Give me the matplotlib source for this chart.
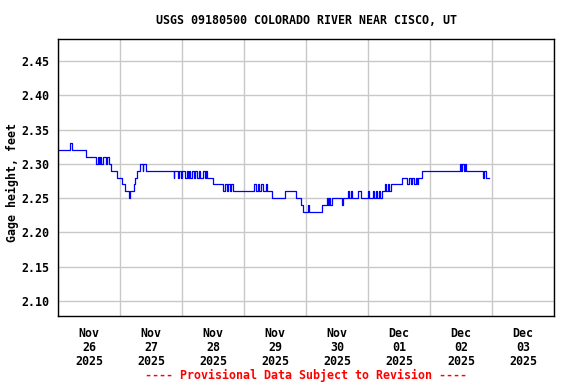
import matplotlib
matplotlib.use("Agg")
from matplotlib import pyplot as plt
import matplotlib.ticker as ticker

plt.rcParams['font.family'] = 'DejaVu Sans Mono'
plt.rcParams['font.weight'] = 'bold'
plt.rcParams['font.size'] = 8.4

# hours since 2025-11-26 00:00 at which the gage reading changes, and the new reading
hours = [0, 4.75, 5.25, 11.0, 14.75, 15.5, 15.75, 16.25, 16.5, 17.25, 18.75, 19.0,
         19.75, 20.5, 23.0, 24.75, 25.75, 27.5, 28.0, 29.25, 29.75, 30.5, 31.75,
         32.75, 33.0, 34.25, 44.75, 45.0, 46.5, 47.0, 47.5, 48.0, 49.0, 49.75,
         50.25, 50.75, 51.25, 52.0, 52.5, 53.0, 53.75, 54.5, 55.0, 56.0, 57.0,
         57.25, 57.75, 60.0, 63.75, 64.5, 65.25, 65.75, 66.5, 67.0, 67.75, 76.0,
         76.75, 77.5, 77.75, 78.75, 79.5, 80.5, 81.0, 83.0, 88.0, 92.0, 94.0,
         95.0, 96.75, 97.25, 102.25, 104.0, 104.5, 104.75, 105.25, 106.0, 110.0,
         110.5, 112.25, 112.75, 113.5, 113.75, 116.0, 117.25, 120.0, 120.5,
         122.0, 122.5, 123.0, 123.5, 124.25, 124.75, 125.25, 126.5, 127.0,
         127.75, 128.25, 129.0, 133.0, 135.25, 135.75, 136.5, 137.0, 138.0,
         138.5, 139.0, 139.25, 140.75, 155.5, 156.0, 156.5, 157.0, 157.5, 158.0,
         164.5, 165.0, 165.5, 167.0]
gage = [2.32, 2.33, 2.32, 2.31, 2.30, 2.31, 2.30, 2.31, 2.30, 2.31, 2.30, 2.31,
        2.30, 2.29, 2.28, 2.27, 2.26, 2.25, 2.26, 2.27, 2.28, 2.29, 2.30,
        2.29, 2.30, 2.29, 2.28, 2.29, 2.28, 2.29, 2.28, 2.29, 2.28, 2.29,
        2.28, 2.29, 2.28, 2.29, 2.28, 2.29, 2.28, 2.29, 2.28, 2.29, 2.28,
        2.29, 2.28, 2.27, 2.26, 2.27, 2.26, 2.27, 2.26, 2.27, 2.26, 2.27,
        2.26, 2.27, 2.26, 2.27, 2.26, 2.27, 2.26, 2.25, 2.26, 2.25, 2.24,
        2.23, 2.24, 2.23, 2.24, 2.25, 2.24, 2.25, 2.24, 2.25, 2.24,
        2.25, 2.26, 2.25, 2.26, 2.25, 2.26, 2.25, 2.26, 2.25,
        2.26, 2.25, 2.26, 2.25, 2.26, 2.25, 2.26, 2.27, 2.26,
        2.27, 2.26, 2.27, 2.28, 2.27, 2.28, 2.27, 2.28, 2.27,
        2.28, 2.27, 2.28, 2.29, 2.30, 2.29, 2.30, 2.29, 2.30, 2.29,
        2.28, 2.29, 2.28, 2.28]

day_labels = ['Nov\n26\n2025', 'Nov\n27\n2025', 'Nov\n28\n2025', 'Nov\n29\n2025',
              'Nov\n30\n2025', 'Dec\n01\n2025', 'Dec\n02\n2025', 'Dec\n03\n2025']
y_ticks = [2.10, 2.15, 2.20, 2.25, 2.30, 2.35, 2.40, 2.45]

fig = plt.figure(figsize=(5.76, 3.84), dpi=100)
ax = fig.add_axes([58/576, 1-316/384, 496/576, 277/384])

ax.plot(hours, gage, drawstyle='steps-post', color='#0000ff', linewidth=0.9)

ax.set_xlim(0, 24*len(day_labels))
ax.set_ylim(2.078, 2.482)

# labels at noon, grid at midnight
ax.set_xticks([12 + 24*i for i in range(len(day_labels))])
ax.set_xticklabels(day_labels, linespacing=1.1)
ax.xaxis.set_minor_locator(ticker.MultipleLocator(24))
ax.set_yticks(y_ticks)
ax.yaxis.set_major_formatter(ticker.FormatStrFormatter('%.2f'))
ax.tick_params(axis='both', which='both', length=0)
ax.tick_params(axis='x', pad=8)
ax.tick_params(axis='y', pad=6)
ax.grid(True, which='minor', axis='x', color='#c8c8c8', linewidth=1)
ax.grid(True, which='major', axis='y', color='#c8c8c8', linewidth=1)
ax.set_axisbelow(True)
for s in ax.spines.values():
    s.set_linewidth(1)
    s.set_color('black')

fig.text(12/576, 1-183/384, 'Gage height, feet', rotation=90,
         ha='center', va='center')
fig.text(306/576, 1-20/384, 'USGS 09180500 COLORADO RIVER NEAR CISCO, UT',
         ha='center', va='center')
fig.text(306/576, 1-375/384, '---- Provisional Data Subject to Revision ----',
         ha='center', va='center', color='red')

fig.savefig('out.png', dpi=100)
